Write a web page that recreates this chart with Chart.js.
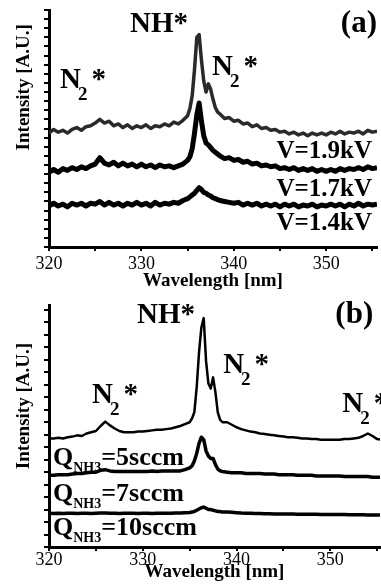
<!DOCTYPE html>
<html>
<head>
<meta charset="utf-8">
<script src="https://cdn.jsdelivr.net/npm/chart.js@4/dist/chart.umd.min.js"></script>
<style>
  html, body { margin: 0; padding: 0; background: #fff; }
  #wrap { position: relative; width: 381px; height: 588px; overflow: hidden; }
  canvas { position: absolute; left: 0; }
  #chart-a { top: 0; }
  #chart-b { top: 290px; }
</style>
</head>
<body>
<div id="wrap">
  <canvas id="chart-a" width="381" height="290"></canvas>
  <canvas id="chart-b" width="381" height="298"></canvas>
</div>
<script>
// --- DATA ---
// wavelength grid [nm], finer around the NH* band
const wavelengths = [
  320, 320.5, 321, 321.5, 322, 322.5, 323, 323.5, 324, 324.5,
  325, 325.5, 326, 326.5, 327, 327.5, 328, 328.5, 329, 329.5,
  330, 330.5, 331, 331.5, 332, 332.5, 333, 333.5, 334, 334.5,
  335, 335.25, 335.5, 335.75, 336, 336.25, 336.5, 336.75, 337, 337.25,
  337.5, 337.75, 338, 338.25, 338.5, 339, 339.5, 340, 340.5, 341,
  341.5, 342, 342.5, 343, 343.5, 344, 344.5, 345, 345.5, 346,
  346.5, 347, 347.5, 348, 348.5, 349, 349.5, 350, 350.5, 351,
  351.5, 352, 352.5, 353, 353.5, 354, 354.5, 355, 355.5
];

// (a) intensity vs applied voltage (offset traces, A.U.)
const v19kV = [
  12.5, 12.9, 12.6, 12.8, 12.5, 12.9, 13.1, 12.8, 13.2, 13.3,
  13.6, 14.0, 13.6, 13.8, 13.3, 13.5, 13.1, 13.4, 13.0, 13.3,
  13.1, 13.4, 13.0, 13.3, 13.2, 13.5, 13.3, 13.7, 13.5, 13.9,
  14.4, 15.2, 16.6, 19.5, 23.0, 23.3, 20.5, 18.2, 17.0, 17.9,
  17.3, 16.2, 15.3, 14.8, 14.6, 14.1, 14.2, 13.8, 13.9, 13.5,
  13.6, 13.2, 13.4, 13.0, 13.1, 12.8, 12.9, 12.6, 12.7, 12.4,
  12.6, 12.3, 12.5, 12.2, 12.5, 12.3, 12.5, 12.3, 12.6, 12.4,
  12.7, 12.4, 12.6, 12.5, 12.7, 12.4, 12.8, 12.6, 12.7
];
const v17kV = [
  8.2, 8.5, 8.2, 8.6, 8.4, 8.7, 8.5, 8.8, 8.6, 8.9,
  9.1, 9.8, 9.2, 9.0, 9.3, 8.9, 9.2, 8.9, 9.1, 8.8,
  9.1, 8.8, 9.0, 8.7, 9.0, 8.8, 8.9, 8.7, 8.9, 9.1,
  9.5, 9.9, 10.8, 12.5, 14.5, 15.8, 13.8, 12.2, 11.4, 11.2,
  10.9, 10.6, 10.4, 10.2, 10.0, 9.7, 9.8, 9.5, 9.6, 9.3,
  9.4, 9.1, 9.2, 8.9, 9.0, 8.8, 8.9, 8.6, 8.7, 8.5,
  8.7, 8.4, 8.6, 8.4, 8.6, 8.3, 8.5, 8.3, 8.5, 8.3,
  8.6, 8.4, 8.6, 8.5, 8.7, 8.5, 8.8, 8.6, 8.7
];
const v14kV = [
  4.5, 4.8, 4.5, 4.7, 4.4, 4.8, 4.6, 4.8, 4.5, 4.8,
  4.7, 5.0, 4.6, 4.9, 4.6, 4.8, 4.5, 4.8, 4.6, 4.9,
  4.6, 4.8, 4.5, 4.9, 4.6, 4.8, 4.7, 4.9, 4.8, 5.1,
  5.3, 5.5, 5.7, 5.9, 6.2, 6.5, 6.3, 6.0, 5.9, 5.7,
  5.6, 5.4, 5.3, 5.2, 5.1, 5.0, 4.9, 4.8, 4.9, 4.6,
  4.8, 4.6, 4.8, 4.5, 4.7, 4.5, 4.7, 4.4, 4.7, 4.5,
  4.7, 4.4, 4.6, 4.5, 4.7, 4.4, 4.6, 4.5, 4.7, 4.5,
  4.7, 4.4, 4.7, 4.5, 4.8, 4.5, 4.7, 4.6, 4.7
];

// (b) intensity vs NH3 flow (offset traces, A.U.)
const q5sccm = [
  8.7, 8.7, 8.75, 8.7, 8.8, 8.85, 8.95, 8.9, 9.1, 9.2,
  9.3, 9.7, 10.05, 9.75, 9.5, 9.3, 9.2, 9.2, 9.2, 9.25,
  9.25, 9.3, 9.35, 9.4, 9.4, 9.45, 9.5, 9.6, 9.7, 9.85,
  10.0, 10.3, 10.8, 12.8, 15.6, 17.6, 18.35, 14.9, 13.1, 12.7,
  13.6, 12.4, 10.8, 10.2, 10.0, 10.0, 9.8, 9.6, 9.45, 9.35,
  9.25, 9.2, 9.1, 9.05, 9.0, 8.95, 8.9, 8.85, 8.8, 8.8,
  8.75, 8.7, 8.7, 8.65, 8.65, 8.6, 8.6, 8.6, 8.6, 8.6,
  8.65, 8.65, 8.7, 8.75, 8.9, 9.1, 8.9, 8.65, 8.6
];
const q7sccm = [
  5.75, 5.75, 5.8, 5.8, 5.8, 5.85, 5.9, 5.9, 5.95, 6.0,
  6.0, 6.15, 6.2, 6.1, 6.05, 6.05, 6.05, 6.05, 6.05, 6.05,
  6.05, 6.05, 6.1, 6.05, 6.1, 6.1, 6.1, 6.1, 6.1, 6.2,
  6.35, 6.5, 6.9, 7.5, 8.3, 8.8, 8.6, 7.7, 7.3, 7.1,
  7.1, 6.6, 6.25, 6.1, 6.05, 6.0, 5.95, 5.95, 5.95, 5.9,
  5.9, 5.9, 5.9, 5.85, 5.85, 5.85, 5.8, 5.8, 5.8, 5.8,
  5.75, 5.75, 5.75, 5.75, 5.7, 5.7, 5.7, 5.7, 5.7, 5.7,
  5.65, 5.65, 5.65, 5.65, 5.65, 5.65, 5.6, 5.6, 5.6
];
const q10sccm = [
  2.7, 2.68, 2.7, 2.68, 2.7, 2.7, 2.68, 2.7, 2.7, 2.68,
  2.7, 2.72, 2.72, 2.7, 2.7, 2.68, 2.7, 2.7, 2.7, 2.68,
  2.7, 2.7, 2.68, 2.7, 2.7, 2.7, 2.7, 2.72, 2.72, 2.74,
  2.76, 2.8, 2.85, 2.95, 3.05, 3.15, 3.2, 3.1, 3.0, 3.0,
  2.95, 2.9, 2.85, 2.85, 2.8, 2.8, 2.78, 2.75, 2.72, 2.7,
  2.7, 2.68, 2.68, 2.66, 2.66, 2.65, 2.65, 2.65, 2.64, 2.64,
  2.63, 2.63, 2.62, 2.62, 2.62, 2.6, 2.6, 2.6, 2.6, 2.6,
  2.6, 2.58, 2.58, 2.58, 2.58, 2.57, 2.57, 2.57, 2.57
];

// --- STYLE ---
const SERIF = '"Liberation Serif", "DejaVu Serif", serif';
const tickFont = { family: SERIF, size: 18 };
const titleFont = { family: SERIF, size: 19, weight: 'bold' };

function n2Label(x, y) {
  return { x, y, size: 29, parts: [{ t: 'N' }, { t: '2', size: 19, dy: 12, dx: -3 }, { t: '*', dx: 4 }] };
}
function qLabel(x, y, rest) {
  return { x, y, size: 26, parts: [{ t: 'Q' }, { t: 'NH3', size: 14, dy: 7 }, { t: rest }] };
}

const labelsA = [
  { x: 328.77, y: 23.6, size: 29, parts: [{ t: 'NH*' }] },
  { x: 355.5, y: 23.6, size: 31, align: 'right', parts: [{ t: '(a)' }] },
  n2Label(321.2, 17.44),
  n2Label(337.64, 18.87),
  { x: 354.96, y: 9.76, size: 25, align: 'right', parts: [{ t: 'V=1.9kV' }] },
  { x: 354.96, y: 5.6, size: 25, align: 'right', parts: [{ t: 'V=1.7kV' }] },
  { x: 354.96, y: 1.87, size: 25, align: 'right', parts: [{ t: 'V=1.4kV' }] },
];
const labelsB = [
  { x: 329.39, y: 17.96, size: 29, parts: [{ t: 'NH*' }] },
  { x: 354.58, y: 17.96, size: 31, align: 'right', parts: [{ t: '(b)' }] },
  n2Label(324.59, 11.55),
  n2Label(338.57, 13.95),
  n2Label(351.27, 10.83),
  qLabel(320.43, 6.58, '=5sccm'),
  qLabel(320.43, 3.69, '=7sccm'),
  qLabel(320.43, 0.96, '=10sccm'),
];

// --- PLUGIN: rich text labels in data coordinates ---
const textLabels = {
  id: 'textLabels',
  afterDatasetsDraw(chart, args, opts) {
    const { ctx, scales: { x, y } } = chart;
    ctx.save();
    ctx.fillStyle = '#000';
    ctx.textBaseline = 'alphabetic';
    ctx.textAlign = 'left';
    (opts.items || []).forEach(item => {
      const parts = item.parts.map(p => {
        const font = `bold ${p.size || item.size}px ${SERIF}`;
        ctx.font = font;
        return { ...p, font, w: ctx.measureText(p.t).width + (p.dx || 0) };
      });
      const total = parts.reduce((s, p) => s + p.w, 0);
      let px = x.getPixelForValue(item.x);
      const py = y.getPixelForValue(item.y);
      if (item.align === 'right') px -= total;
      parts.forEach(p => {
        ctx.font = p.font;
        ctx.fillText(p.t, px + (p.dx || 0), py + (p.dy || 0));
        px += p.w;
      });
    });
    ctx.restore();
  }
};

// --- CHART BUILDER ---
function buildPanel(id, cfg) {
  const ctx = document.getElementById(id).getContext('2d');
  return new Chart(ctx, {
    type: 'line',
    data: {
      datasets: cfg.series.map(s => ({
        data: wavelengths.map((w, i) => ({ x: w, y: s.values[i] })),
        borderColor: s.color,
        borderWidth: s.width,
        borderJoinStyle: 'round',
        pointRadius: 0,
        fill: false,
        tension: 0,
      }))
    },
    options: {
      responsive: false,
      animation: false,
      devicePixelRatio: 1,
      layout: { padding: cfg.padding },
      plugins: {
        legend: { display: false },
        tooltip: { enabled: false },
        textLabels: { items: cfg.labels },
      },
      scales: {
        x: {
          type: 'linear',
          min: 320,
          max: cfg.xMax,
          afterFit: s => { s.height = cfg.xAxisHeight; },
          border: { display: true, color: '#000', width: 3 },
          grid: { drawOnChartArea: false, tickLength: 4, color: '#000', lineWidth: 2 },
          ticks: {
            stepSize: 5,
            includeBounds: false,
            autoSkip: false,
            maxRotation: 0,
            padding: cfg.tickPad,
            color: '#000',
            font: tickFont,
            callback: v => (v % 10 === 0 ? String(v) : ''),
          },
          title: {
            display: true,
            text: 'Wavelength [nm]',
            color: '#000',
            font: titleFont,
            padding: { top: 0, bottom: cfg.xTitlePad },
          },
        },
        y: {
          min: 0,
          max: cfg.yMax,
          afterFit: s => { s.width = 49; },
          border: { display: true, color: '#000', width: 3 },
          grid: { drawOnChartArea: false, tickLength: 5, color: '#000', lineWidth: 2 },
          ticks: { display: false, stepSize: 1, includeBounds: false },
          title: {
            display: true,
            text: 'Intensity [A.U.]' + cfg.yTitleGap,
            align: 'end',
            color: '#000',
            font: titleFont,
            padding: { top: 13, bottom: 0 },
          },
        },
      },
    },
    plugins: [textLabels],
  });
}

// --- INITIALIZATION ---
buildPanel('chart-a', {
  series: [
    { values: v19kV, color: '#2a2a2a', width: 3.5 },
    { values: v17kV, color: '#000', width: 5 },
    { values: v14kV, color: '#000', width: 5 },
  ],
  labels: labelsA,
  padding: { top: 10, right: 4, bottom: 0, left: 0 },
  xMax: 355.5,
  yMax: 26,
  xAxisHeight: 43,
  tickPad: 2,
  xTitlePad: -2,
  yTitleGap: '   ',
});

buildPanel('chart-b', {
  series: [
    { values: q5sccm, color: '#000', width: 2.5 },
    { values: q7sccm, color: '#000', width: 3.5 },
    { values: q10sccm, color: '#000', width: 3.5 },
  ],
  labels: labelsB,
  padding: { top: 15, right: 1, bottom: 0, left: 0 },
  xMax: 355.3,
  yMax: 19.4,
  xAxisHeight: 41,
  tickPad: -2,
  xTitlePad: 5,
  yTitleGap: '        ',
});
</script>
</body>
</html>
